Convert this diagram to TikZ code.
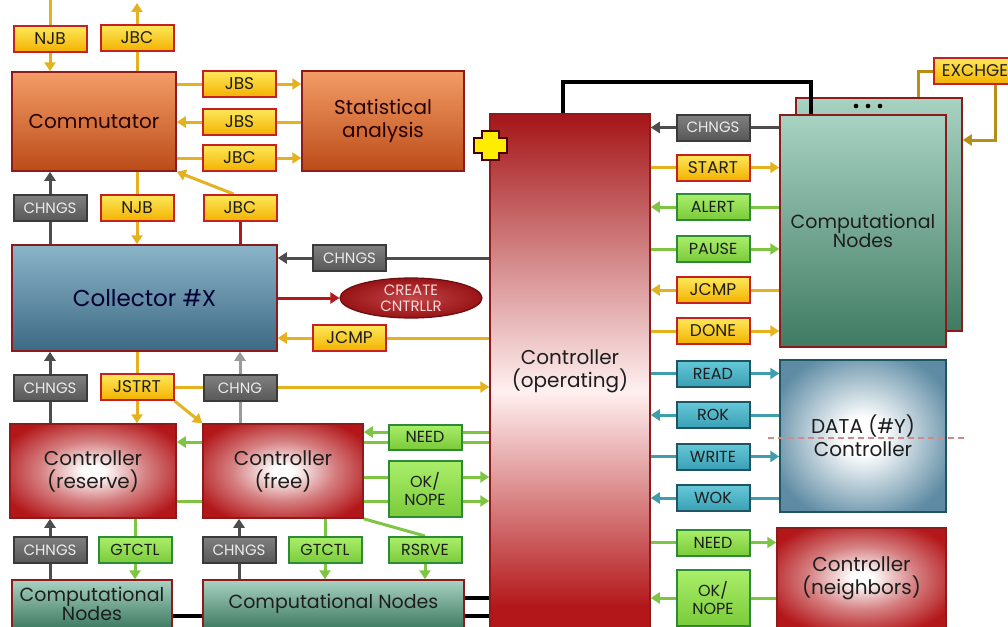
\documentclass[tikz,border=0pt]{standalone}
\usepackage{fontspec}
\setmainfont{Poppins}
\usetikzlibrary{arrows.meta,shapes.geometric,backgrounds}
\definecolor{gold}{HTML}{E3B21E}
\definecolor{ylt}{HTML}{FFE85A}
\definecolor{ydk}{HTML}{F2B200}
\definecolor{lred}{HTML}{C62020}
\definecolor{gline}{HTML}{4D4D4D}
\definecolor{lgline}{HTML}{9A9A9A}
\definecolor{glt}{HTML}{808080}
\definecolor{gdk}{HTML}{585858}
\definecolor{gbd}{HTML}{3A3A3A}
\definecolor{grn}{HTML}{7EC544}
\definecolor{grlt}{HTML}{AAEE6A}
\definecolor{grdk}{HTML}{7ACB3A}
\definecolor{grbd}{HTML}{2E8B35}
\definecolor{tline}{HTML}{3E9EAE}
\definecolor{tlt}{HTML}{66C8D8}
\definecolor{tdk}{HTML}{3AA0B5}
\definecolor{tbd}{HTML}{1F5563}
\definecolor{bred}{HTML}{8E1B1B}
\definecolor{crimson}{HTML}{B3171A}
\definecolor{orlt}{HTML}{F39C66}
\definecolor{ormd}{HTML}{E8692A}
\definecolor{ordk}{HTML}{BB4C18}
\definecolor{bllt}{HTML}{8AB4C8}
\definecolor{bldk}{HTML}{3D6984}
\definecolor{tealt}{HTML}{A8D2C2}
\definecolor{teadk}{HTML}{3F7B62}
\definecolor{dblue}{HTML}{5F8CA4}
\definecolor{txt}{HTML}{1E1E1E}
\definecolor{pinkd}{HTML}{D08A8A}
\pgfdeclareradialshading{redrad}{\pgfpointorigin}{color(0bp)=(white); color(3bp)=(white); color(16bp)=(crimson!55!white); color(30bp)=(crimson); color(50bp)=(crimson)}
\pgfdeclareradialshading{bluerad}{\pgfpointorigin}{color(0bp)=(white); color(6bp)=(white); color(29bp)=(dblue); color(50bp)=(dblue)}
\pgfdeclareradialshading{ellrad}{\pgfpointorigin}{color(0bp)=(crimson!80!white); color(25bp)=(crimson!85!black); color(50bp)=(crimson!85!black)}
\pgfdeclareverticalshading{copsh}{100bp}{color(0bp)=(crimson); color(27bp)=(crimson); color(48bp)=(white!94!red); color(75bp)=(crimson!92!black); color(100bp)=(crimson!92!black)}
\pgfdeclarelayer{back}
\pgfsetlayers{back,background,main}
\begin{document}
\begin{tikzpicture}[x=1pt,y=-1pt,
  every node/.style={inner sep=0pt, align=center, text=txt},
  box/.style={draw=bred, line width=1.5pt, font=\fontsize{20}{23}\selectfont},
  orbox/.style={box, top color=orlt, middle color=ormd, bottom color=ordk, text=black!85!red},
  blbox/.style={box, top color=bllt, bottom color=bldk, font=\fontsize{23}{26}\selectfont, text=black!80!blue},
  rdbox/.style={box, shading=redrad},
  tbox/.style={box, top color=tealt, bottom color=teadk, font=\fontsize{19}{19}\selectfont},
  lab/.style={line width=2pt, minimum width=73, minimum height=26},
  ylab/.style={lab, draw=lred, top color=ylt, bottom color=ydk, font=\fontsize{17}{17}\selectfont},
  glab/.style={lab, draw=gbd, top color=glt, bottom color=gdk, text=white!92!black, font=\fontsize{15}{15}\selectfont},
  grlab/.style={lab, draw=grbd, top color=grlt, bottom color=grdk, font=\fontsize{16}{18}\selectfont},
  tlab/.style={lab, draw=tbd, top color=tlt, bottom color=tdk, font=\fontsize{16}{16}\selectfont},
  ln/.style={line width=3pt},
  arr/.style={-{Triangle[length=9pt,width=11pt]}},
  yl/.style={ln, draw=gold},
  dg/.style={ln, draw=gline},
  lg/.style={ln, draw=lgline},
  gr/.style={ln, draw=grn},
  tl/.style={ln, draw=tline},
  rd/.style={ln, draw=crimson},
  bk/.style={line width=3.5pt, draw=black},
  ex/.style={line width=3pt, draw=gold!80!black}
]
\useasboundingbox (0,0) rectangle (1008,626);
\clip (0,0) rectangle (1008,626);

% ---------- main boxes ----------
\node[orbox, minimum width=164, minimum height=99] (comm) at (94,121.5) {Commutator};
\node[orbox, minimum width=162, minimum height=100] (stat) at (383,121) {Statistical\\analysis};
\node[blbox, minimum width=265, minimum height=106] (coll) at (144.5,298) {Collector \#X};
\node[ellipse, draw=crimson!60!black, line width=1.2pt, shading=ellrad, minimum width=142, minimum height=40, text=white!85!red, font=\fontsize{15}{16}\selectfont] (create) at (411,298) {CREATE\\CNTRLLR};
\node[rdbox, minimum width=166, minimum height=94] (cres) at (93,471) {Controller\\(reserve)};
\node[rdbox, minimum width=160, minimum height=94] (cfree) at (283,471) {Controller\\(free)};
\node[tbox, minimum width=160, minimum height=48, align=center] (compL) at (92,604) {Computational\\Nodes};
\node[tbox, minimum width=261, minimum height=48] (compM) at (333.5,604) {Computational Nodes};
\node[box, shading=copsh, minimum width=160, minimum height=514] (cop) at (570,371) {Controller\\(operating)};
\begin{pgfonlayer}{back}
\node[tbox, minimum width=166, minimum height=233] (compB) at (879,214.5) {};
\fill (856,106) circle (2.3) (868,106) circle (2.3) (880,106) circle (2.3);
\end{pgfonlayer}
\node[tbox, minimum width=166, minimum height=232] (compF) at (863,231) {Computational\\Nodes};
\node[box, draw=tbd, shading=bluerad, minimum width=166, minimum height=152] (data) at (863,436) {DATA (\#Y)\\Controller};
\node[rdbox, minimum width=169, minimum height=100] (cneigh) at (861.5,578) {Controller\\(neighbors)};

% yellow cross
\draw[draw=black!70!red, line width=1.2pt, fill=yellow!95!orange] (482,131) -- (499,131) -- (499,138) -- (507,138) -- (507,153) -- (499,153) -- (499,160) -- (482,160) -- (482,153) -- (474,153) -- (474,138) -- (482,138) -- cycle;

% ---------- labels ----------
\node[ylab] (njbA) at (50,39) {NJB};
\node[ylab] (jbcA) at (137,38) {JBC};
\node[ylab] (jbs1) at (239.5,84) {JBS};
\node[ylab] (jbs2) at (239.5,122) {JBS};
\node[ylab] (jbc2) at (239.5,158) {JBC};
\node[glab] (chngs1) at (50,208) {CHNGS};
\node[ylab] (njb2) at (137,208) {NJB};
\node[ylab] (jbc3) at (240,208) {JBC};
\node[glab] (chngs2) at (349.5,258) {CHNGS};
\node[ylab] (jcmp1) at (349.5,338) {JCMP};
\node[glab] (chngs3) at (50,388) {CHNGS};
\node[ylab] (jstrt) at (137,387) {JSTRT};
\node[glab] (chng4) at (240,388) {CHNG};
\node[grlab, minimum height=25] (need1) at (425,437) {NEED};
\node[grlab, minimum height=56] (oknope1) at (425,489) {OK/\\NOPE};
\node[glab] (chngs5) at (50,550) {CHNGS};
\node[grlab] (gtctl1) at (135,550) {GTCTL};
\node[glab] (chngs6) at (239,550) {CHNGS};
\node[grlab] (gtctl2) at (325,550) {GTCTL};
\node[grlab] (rsrve) at (425,550) {RSRVE};

\node[glab] (chngsR) at (713,127.5) {CHNGS};
\node[ylab] (start) at (713,167.5) {START};
\node[grlab] (alert) at (713,207) {ALERT};
\node[grlab] (pause) at (713,249) {PAUSE};
\node[ylab] (jcmp2) at (713,290) {JCMP};
\node[ylab] (done) at (713,331) {DONE};
\node[tlab] (read) at (713,373.5) {READ};
\node[tlab] (rok) at (713,415) {ROK};
\node[tlab] (write) at (713,456.5) {WRITE};
\node[tlab] (wok) at (713,498) {WOK};
\node[grlab] (need2) at (713,542.5) {NEED};
\node[grlab, minimum height=56] (oknope2) at (713,598) {OK/\\NOPE};
\node[ylab, minimum width=82, anchor=west] (exchge) at (933,71) {EXCHGE};

% dashed line across the data controller
\coordinate (dsA) at (768,438);
\coordinate (dsB) at (967,438);
\draw[pinkd, line width=2pt, dash pattern=on 6pt off 4pt] (dsA) -- (dsB);

% ---------- connectors ----------
\coordinate (t1) at (50,-2);
\coordinate (t2) at (137,3);
\coordinate (n1a) at ([yshift=5pt]need1.center);
\coordinate (n1b) at ([yshift=-5pt]need1.center);
\coordinate (ok1a) at ([yshift=12pt]oknope1.center);
\coordinate (ok1b) at ([yshift=-12pt]oknope1.center);
\coordinate (bl1) at (0,616);
\coordinate (bl2) at (0,598);
\coordinate (bx) at (563,82);
\coordinate (bx2) at (811,82);
\coordinate (ex1) at (918,0);
\coordinate (ex2) at (995,140);
\begin{pgfonlayer}{background}
\draw[yl,arr] (t1) -- (t1 |- comm.north);
\draw[yl,arr] (t2 |- comm.north) -- (t2);
\draw[yl,arr] (comm.east |- jbs1) -- (stat.west |- jbs1);
\draw[yl,arr] (stat.west |- jbs2) -- (comm.east |- jbs2);
\draw[yl,arr] (comm.east |- jbc2) -- (stat.west |- jbc2);
\draw[dg,arr] (coll.north -| chngs1) -- (comm.south -| chngs1);
\draw[yl,arr] (comm.south -| njb2) -- (coll.north -| njb2);
\draw[yl,arr] (jbc3.115) -- (comm.south east);
\draw[rd] (jbc3.south) -- (coll.north -| jbc3);
\draw[dg,arr] (cop.west |- chngs2) -- (coll.east |- chngs2);
\draw[rd,arr] (coll.east |- create) -- (create.west);
\draw[yl,arr] (cop.west |- jcmp1) -- (coll.east |- jcmp1);
\draw[dg,arr] (cres.north -| chngs3) -- (coll.south -| chngs3);
\draw[yl,arr] (coll.south -| jstrt) -- (cres.north -| jstrt);
\draw[yl,arr] (jstrt.east) -- (cop.west |- jstrt);
\draw[yl,arr] (jstrt.south east) -- (cfree.north west);
\draw[lg,arr] (cfree.north -| chng4) -- (coll.south -| chng4);
\draw[gr,arr] (cop.west |- n1a) -- (cfree.east |- n1a);
\draw[gr] (cop.west |- n1b) -- (cfree.east |- n1b);
\draw[gr,arr] (cfree.west |- n1b) -- (cres.east |- n1b);
\draw[gr] (cres.east |- ok1b) -- (cfree.west |- ok1b);
\draw[gr,arr] (cfree.east |- ok1a) -- (cop.west |- ok1a);
\draw[gr,arr] (cfree.east |- ok1b) -- (cop.west |- ok1b);
\draw[gr] (cfree.south east) -- (rsrve.north);
\draw[gr,arr] (rsrve.south) -- (compM.north -| rsrve);
\draw[dg,arr] (compL.north -| chngs5) -- (cres.south -| chngs5);
\draw[gr,arr] (cres.south -| gtctl1) -- (compL.north -| gtctl1);
\draw[dg,arr] (compM.north -| chngs6) -- (cfree.south -| chngs6);
\draw[gr,arr] (cfree.south -| gtctl2) -- (compM.north -| gtctl2);
\draw[bk] (compL.east |- bl1) -- (compM.west |- bl1);
\draw[bk] (compM.east |- bl1) -- (cop.west |- bl1);
\draw[bk] (compM.east |- bl2) -- (cop.west |- bl2);
\draw[bk] (cop.north -| bx) -- (bx) -- (bx2) -- (compF.north -| bx2);
\draw[dg,arr] (compF.west |- chngsR) -- (cop.east |- chngsR);
\draw[yl,arr] (cop.east |- start) -- (compF.west |- start);
\draw[gr,arr] (compF.west |- alert) -- (cop.east |- alert);
\draw[gr,arr] (cop.east |- pause) -- (compF.west |- pause);
\draw[yl,arr] (compF.west |- jcmp2) -- (cop.east |- jcmp2);
\draw[yl,arr] (cop.east |- done) -- (compF.west |- done);
\draw[ex] (compB.north -| ex1) |- (exchge.west);
\draw[ex,arr] (exchge.south -| ex2) |- (compB.east |- ex2);
\draw[tl,arr] (cop.east |- read) -- (data.west |- read);
\draw[tl,arr] (data.west |- rok) -- (cop.east |- rok);
\draw[tl,arr] (cop.east |- write) -- (data.west |- write);
\draw[tl,arr] (data.west |- wok) -- (cop.east |- wok);
\draw[gr,arr] (cop.east |- need2) -- (cneigh.west |- need2);
\draw[gr,arr] (cneigh.west |- oknope2) -- (cop.east |- oknope2);
\end{pgfonlayer}
\end{tikzpicture}
\end{document}
